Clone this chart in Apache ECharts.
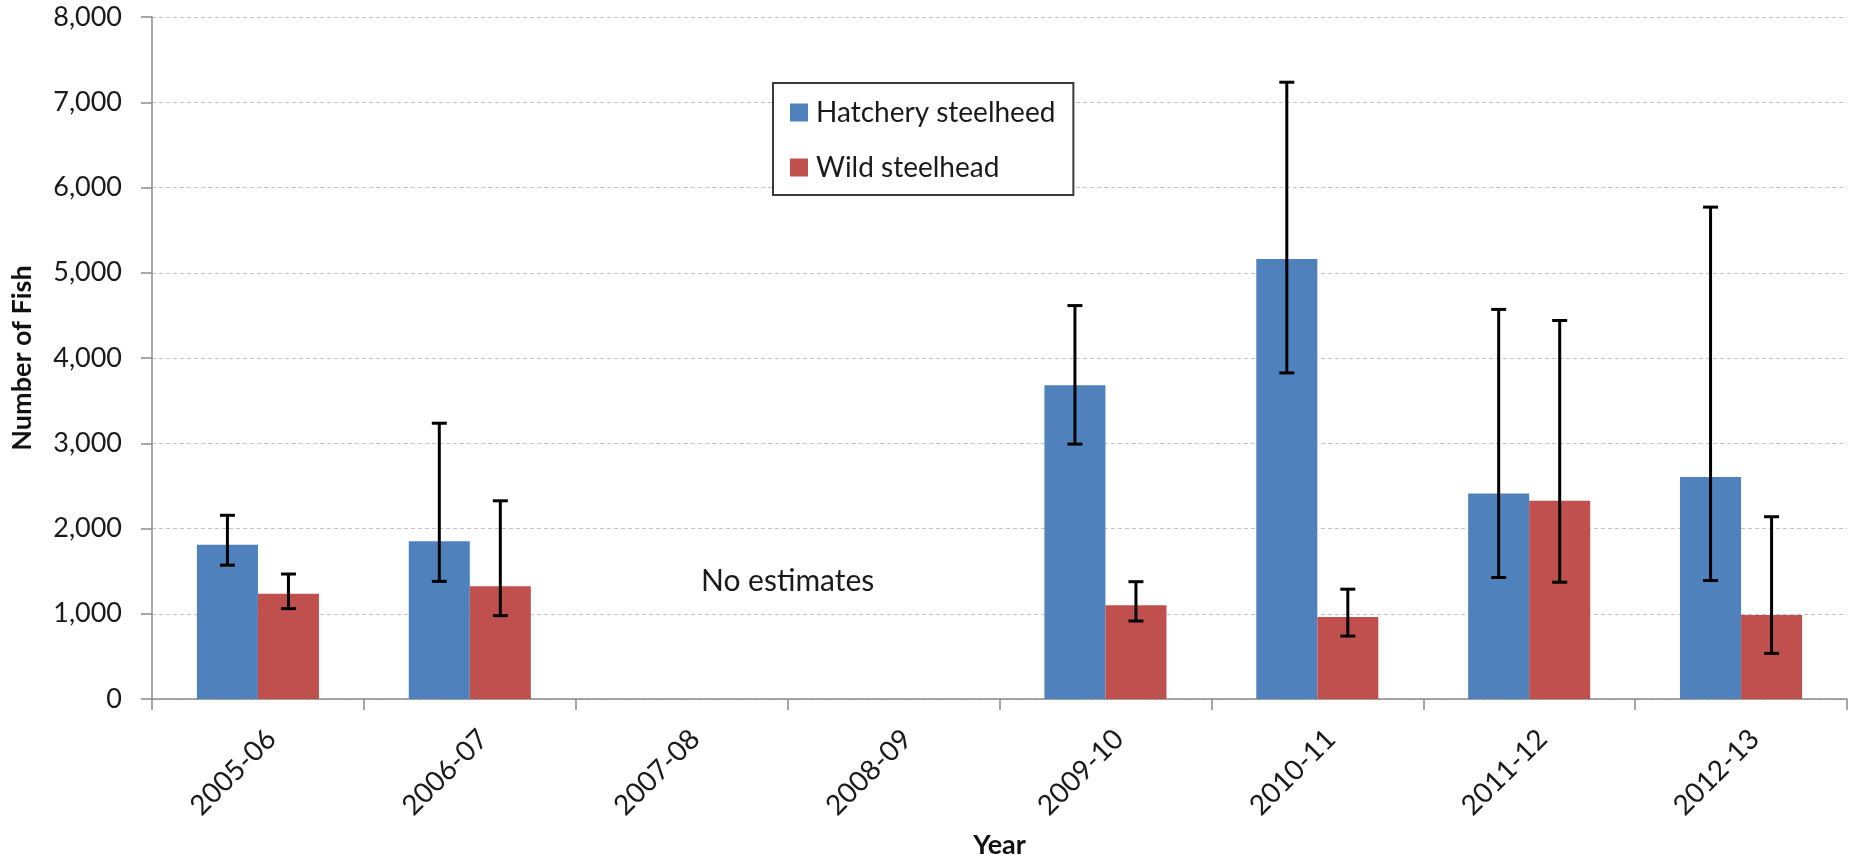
<!DOCTYPE html>
<html>
<head>
<meta charset="utf-8">
<style>
  html, body { margin: 0; padding: 0; background: #ffffff; }
  #chart { width: 1849px; height: 859px; }
</style>
<script src="https://cdn.jsdelivr.net/npm/echarts@6/dist/echarts.min.js"></script>
</head>
<body>
<div id="chart"></div>
<script>
// ---- data ----
var categories = ['2005-06', '2006-07', '2007-08', '2008-09', '2009-10', '2010-11', '2011-12', '2012-13'];
var hatcheryValues = [1810, 1850, null, null, 3680, 5160, 2410, 2605];
var hatcheryLow    = [1570, 1380, null, null, 2990, 3825, 1425, 1390];
var hatcheryHigh   = [2155, 3235, null, null, 4615, 7235, 4570, 5770];
var wildValues     = [1236, 1322, null, null, 1100, 962, 2325, 985];
var wildLow        = [1060, 978, null, null, 915, 738, 1370, 535];
var wildHigh       = [1466, 2325, null, null, 1376, 1288, 4440, 2138];
var yTicks = [0, 1000, 2000, 3000, 4000, 5000, 6000, 7000, 8000];
var seriesNames = ['Hatchery steelheed', 'Wild steelhead'];
var noteText = 'No estimates';
var noteCats = ['2007-08', '2008-09'];
var noteValue = 1380;

// ---- build error-bar data ----
var errData = [];
for (var i = 0; i < categories.length; i++) {
  if (hatcheryLow[i] != null) errData.push([i, hatcheryLow[i], hatcheryHigh[i], 0]);
  if (wildLow[i] != null) errData.push([i, wildLow[i], wildHigh[i], 1]);
}
var BAR_FRAC = 0.288;

var chart = echarts.init(document.getElementById('chart'), null, { renderer: 'canvas' });
var FONT = 'Lato';

var option = {
  animation: false,
  backgroundColor: '#ffffff',
  textStyle: { fontFamily: FONT },
  grid: { left: 152, right: 2, top: 17, bottom: 160, containLabel: false, outerBoundsMode: 'none' },
  legend: {
    orient: 'vertical',
    left: 773,
    top: 83,
    data: seriesNames,
    icon: 'rect',
    itemWidth: 18,
    itemHeight: 18,
    itemGap: 24,
    padding: [14, 18, 12, 17],
    borderColor: '#3a3a3a',
    borderWidth: 2,
    backgroundColor: '#ffffff',
    textStyle: { fontFamily: FONT, fontSize: 28, color: '#1a1a1a', lineHeight: 31, padding: [0, 0, 0, 3] }
  },
  xAxis: {
    type: 'category',
    data: categories,
    boundaryGap: true,
    name: 'Year',
    nameLocation: 'middle',
    nameGap: 133,
    nameMoveOverlap: false,
    nameTextStyle: { fontFamily: FONT, fontSize: 27, fontWeight: 'bold', color: '#111' },
    axisLine: { lineStyle: { color: '#8a8a8a', width: 1.5 } },
    axisTick: { show: true, length: 11, lineStyle: { color: '#8a8a8a', width: 1.5 } },
    axisLabel: {
      rotate: 45, margin: 22, align: 'right', verticalAlign: 'top', lineHeight: 38,
      fontFamily: FONT, fontSize: 28, color: '#1a1a1a', interval: 0
    },
    splitLine: { show: false }
  },
  yAxis: {
    type: 'value',
    min: 0,
    max: 8000,
    interval: 1000,
    name: 'Number of Fish',
    nameLocation: 'middle',
    nameGap: 116,
    nameRotate: 90,
    nameMoveOverlap: false,
    nameTextStyle: { fontFamily: FONT, fontSize: 27, fontWeight: 'bold', color: '#111' },
    axisLine: { show: true, lineStyle: { color: '#8a8a8a', width: 1.5 } },
    axisTick: { show: true, inside: false, length: 11, lineStyle: { color: '#8a8a8a', width: 1.5 } },
    axisLabel: {
      margin: 30, fontFamily: FONT, fontSize: 27, color: '#1a1a1a',
      formatter: function (v) { return v.toLocaleString('en-US'); }
    },
    splitLine: { show: true, lineStyle: { color: '#c4c4c4', width: 1, type: [4, 3] } }
  },
  series: [
    {
      name: seriesNames[0], type: 'bar', data: hatcheryValues,
      barWidth: (BAR_FRAC * 100) + '%', barGap: '0%',
      itemStyle: { color: '#4F81BD' }, z: 2
    },
    {
      name: seriesNames[1], type: 'bar', data: wildValues,
      barWidth: (BAR_FRAC * 100) + '%', barGap: '0%',
      itemStyle: { color: '#C0504D' }, z: 2
    },
    {
      name: 'errors', type: 'custom', data: errData, z: 5,
      encode: { x: 0, y: [1, 2] },
      renderItem: function (params, api) {
        var idx = api.value(0);
        var lo = api.coord([idx, api.value(1)]);
        var hi = api.coord([idx, api.value(2)]);
        var catW = api.size([1, 0])[0];
        var bw = catW * BAR_FRAC;
        var off = api.value(3) === 0 ? -bw / 2 : bw / 2;
        var x = lo[0] + off;
        var cap = 7.5;
        var st = { stroke: '#000', lineWidth: 3 };
        return {
          type: 'group',
          children: [
            { type: 'line', shape: { x1: x, y1: hi[1], x2: x, y2: lo[1] }, style: st },
            { type: 'line', shape: { x1: x - cap, y1: hi[1], x2: x + cap, y2: hi[1] }, style: st },
            { type: 'line', shape: { x1: x - cap, y1: lo[1], x2: x + cap, y2: lo[1] }, style: st }
          ]
        };
      }
    }
  ]
};
chart.setOption(option);

// "No estimates" note placed via the axes
var p1 = chart.convertToPixel({ xAxisIndex: 0, yAxisIndex: 0 }, [noteCats[0], noteValue]);
var p2 = chart.convertToPixel({ xAxisIndex: 0, yAxisIndex: 0 }, [noteCats[1], noteValue]);
chart.setOption({
  graphic: [{
    type: 'text',
    x: (p1[0] + p2[0]) / 2,
    y: p1[1],
    style: {
      text: noteText, fontFamily: FONT, fontSize: 30, fill: '#1a1a1a',
      textAlign: 'center', textVerticalAlign: 'middle'
    }
  }]
});
</script>
</body>
</html>
